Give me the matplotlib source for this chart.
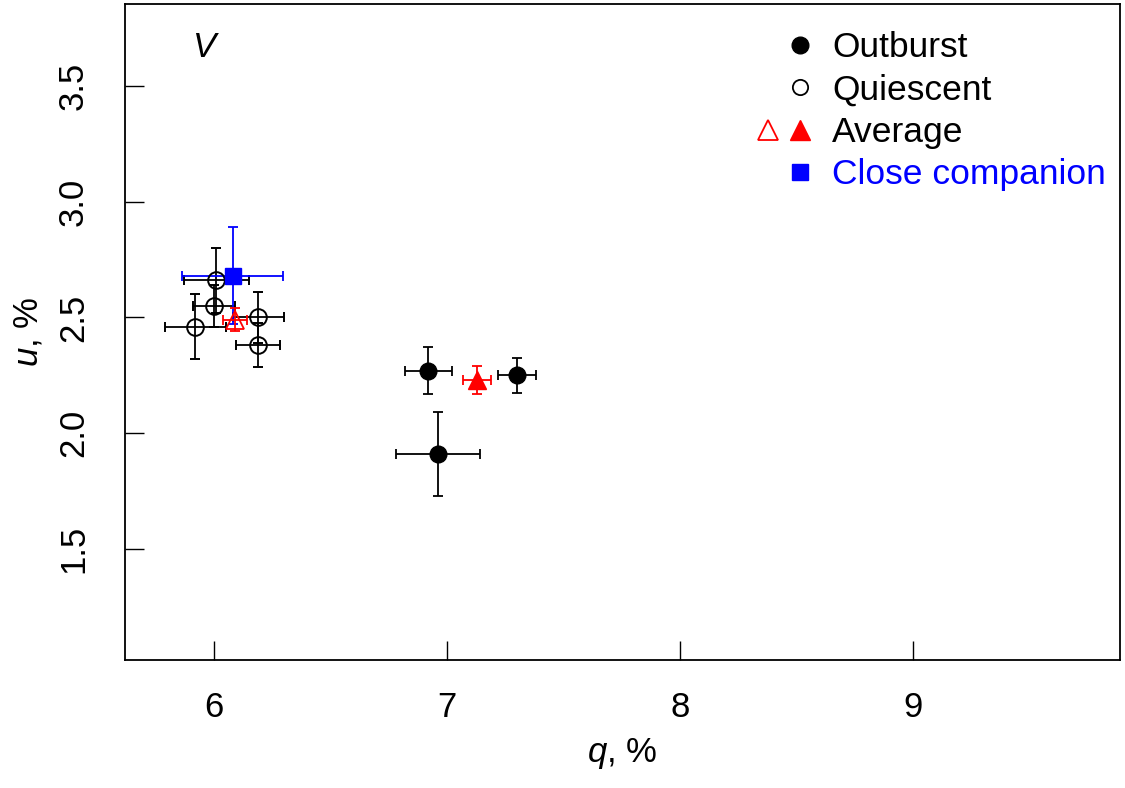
import matplotlib
matplotlib.use("Agg")
import matplotlib.pyplot as plt
from matplotlib.lines import Line2D
from matplotlib.legend_handler import HandlerTuple

plt.rcParams['font.family'] = ['Liberation Sans', 'DejaVu Sans']
plt.rcParams['mathtext.fontset'] = 'custom'
plt.rcParams['mathtext.it'] = 'Liberation Sans:italic'
plt.rcParams['mathtext.rm'] = 'Liberation Sans'

# outburst (filled circles)
q_out = [6.92, 7.30, 6.96]
u_out = [2.27, 2.25, 1.91]
qerr_out = [0.10, 0.08, 0.18]
uerr_out = [0.10, 0.075, 0.18]

# quiescent (open circles)
q_qui = [6.01, 6.00, 5.92, 6.19, 6.19]
u_qui = [2.66, 2.55, 2.46, 2.50, 2.38]
qerr_qui = [0.14, 0.09, 0.13, 0.11, 0.095]
uerr_qui = [0.14, 0.09, 0.14, 0.11, 0.095]

# averages
q_avg_out, u_avg_out, qerr_avg_out, uerr_avg_out = 7.13, 2.23, 0.06, 0.06
q_avg_qui, u_avg_qui, qerr_avg_qui, uerr_avg_qui = 6.09, 2.49, 0.05, 0.05

# close companion
q_cc, u_cc, qerr_cc, uerr_cc = 6.08, 2.68, 0.215, 0.21

fig = plt.figure(figsize=(11.25, 7.88), dpi=100)
ax = fig.add_axes([0.111, 0.1624, 0.8846, 0.8326])

lw = 1.3
ekw = dict(ecolor='black', elinewidth=lw, capsize=3.8, capthick=lw, linestyle='none')

ax.errorbar(q_qui, u_qui, xerr=qerr_qui, yerr=uerr_qui, marker='o', ms=12,
            mfc='none', mec='black', mew=1.4, **ekw)
ax.errorbar(q_out, u_out, xerr=qerr_out, yerr=uerr_out, marker='o', ms=12,
            mfc='black', mec='black', **ekw)
ax.errorbar(q_cc, u_cc, xerr=qerr_cc, yerr=uerr_cc, marker='s', ms=11,
            color='blue', elinewidth=lw, capsize=3.8, capthick=lw, linestyle='none')
ax.errorbar(q_avg_qui, u_avg_qui, xerr=qerr_avg_qui, yerr=uerr_avg_qui, marker='^', ms=13,
            mfc='none', mec='red', mew=1.3, ecolor='red', elinewidth=lw, capsize=3.8,
            capthick=lw, linestyle='none')
ax.errorbar(q_avg_out, u_avg_out, xerr=qerr_avg_out, yerr=uerr_avg_out, marker='^', ms=13,
            color='red', elinewidth=lw, capsize=3.8, capthick=lw, linestyle='none')

ax.set_xlim(5.618, 9.888)
ax.set_ylim(1.02, 3.854)
ax.set_xticks([6, 7, 8, 9])
ax.set_yticks([1.5, 2.0, 2.5, 3.0, 3.5])
ax.set_yticklabels(['1.5', '2.0', '2.5', '3.0', '3.5'], rotation=90, va='center')
ax.tick_params(direction='in', length=14, width=1.0, labelsize=25)
ax.tick_params(axis='x', pad=22)
ax.tick_params(axis='y', pad=25)
for s in ax.spines.values():
    s.set_linewidth(1.3)

ax.set_xlabel(r'$q$, %', fontsize=25, labelpad=9)
ax.set_ylabel(r'$u$, %', fontsize=25, labelpad=9)

ax.text(5.96, 3.665, 'V', fontsize=25, style='italic', ha='center', va='center')

blank = Line2D([], [], linestyle='none')
h_out = (blank, Line2D([], [], linestyle='none', marker='o', ms=12, color='black'))
h_qui = (blank, Line2D([], [], linestyle='none', marker='o', ms=11, mfc='none', mec='black', mew=1.3))
h_avg = (Line2D([], [], linestyle='none', marker='^', ms=14, mfc='none', mec='red', mew=1.3),
         Line2D([], [], linestyle='none', marker='^', ms=14, color='red'))
h_cc = (blank, Line2D([], [], linestyle='none', marker='s', ms=11, color='blue'))

leg = ax.legend([h_out, h_qui, h_avg, h_cc],
                ['Outburst', 'Quiescent', 'Average', 'Close companion'],
                handler_map={tuple: HandlerTuple(ndivide=None, pad=0)},
                loc='upper left', bbox_to_anchor=(0.630, 0.958), frameon=False,
                fontsize=25.5, handlelength=1.82, handletextpad=0.45, labelspacing=0.26,
                borderpad=0, borderaxespad=0)
leg.get_texts()[3].set_color('blue')

fig.savefig('out.png', dpi=100)
